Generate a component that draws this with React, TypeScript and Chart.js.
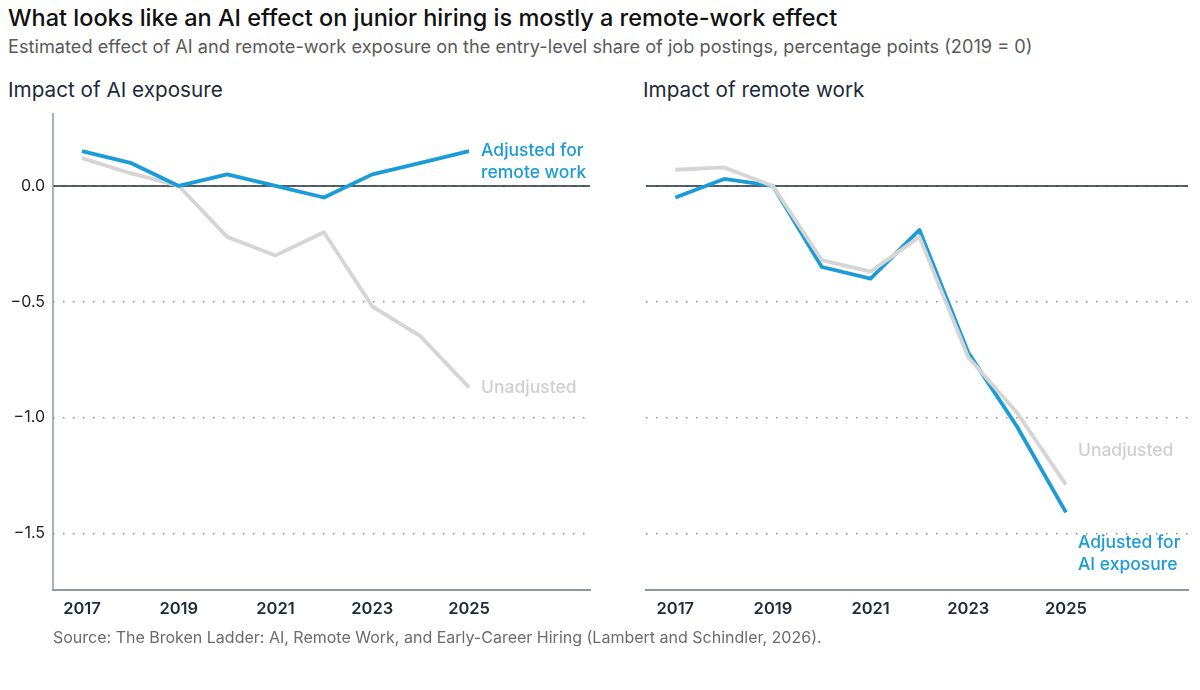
import React, { useRef, useEffect } from 'react';
import { Chart, registerables, Plugin } from 'chart.js';

Chart.register(...registerables);

const years = [2017, 2018, 2019, 2020, 2021, 2022, 2023, 2024, 2025];
const aiAdjusted = [0.15, 0.1, 0, 0.05, 0, -0.05, 0.05, 0.1, 0.15];
const aiUnadjusted = [0.12, 0.055, 0, -0.22, -0.3, -0.2, -0.52, -0.65, -0.87];
const remoteAdjusted = [-0.05, 0.03, 0, -0.35, -0.4, -0.19, -0.72, -1.04, -1.41];
const remoteUnadjusted = [0.07, 0.08, 0, -0.32, -0.37, -0.22, -0.74, -0.98, -1.29];
const xTicks = [2017, 2019, 2021, 2023, 2025];
const yTicks = [-1.5, -1, -0.5, 0];

const BLUE = '#1b9bd7';
const GREY = '#d5d5d5';
const INK = '#1d2b3a';
const FONT = 'Inter, "Noto Sans", sans-serif';

type Series = {
    values: number[];
    color: string;
    label: string[];
    labelColor: string;
    dy: number;
};

type PanelProps = {
    series: Series[];
    showYAxis: boolean;
    left: number;
    padRight: number;
};

const toPoints = (vals: number[]) => years.map((x, i) => ({ x, y: vals[i] }));

const noPad = (s: any) => {
    s.paddingTop = 0;
    s.paddingBottom = 0;
    s.paddingLeft = 0;
    s.paddingRight = 0;
};

const panelPlugin: Plugin<'line'> = {
    id: 'panelExtras',
    beforeDatasetsDraw(chart) {
        const { ctx, chartArea, scales } = chart;
        const y0 = scales.y.getPixelForValue(0);
        ctx.save();
        ctx.strokeStyle = INK;
        ctx.lineWidth = 1.5;
        ctx.beginPath();
        ctx.moveTo(chartArea.left, y0);
        ctx.lineTo(chartArea.right, y0);
        ctx.stroke();
        if ((chart.options as any).showYAxis) {
            ctx.strokeStyle = '#8c98a4';
            ctx.lineWidth = 1.5;
            ctx.beginPath();
            ctx.moveTo(chartArea.left, chartArea.top);
            ctx.lineTo(chartArea.left, chartArea.bottom);
            ctx.stroke();
        }
        ctx.restore();
    },
    afterDatasetsDraw(chart) {
        const { ctx } = chart;
        const series: Series[] = (chart.options as any).seriesLabels || [];
        ctx.save();
        ctx.font = '500 17.5px ' + FONT;
        ctx.textBaseline = 'middle';
        ctx.textAlign = 'left';
        series.forEach((s, i) => {
            const meta = chart.getDatasetMeta(i);
            const last = meta.data[meta.data.length - 1];
            ctx.fillStyle = s.labelColor;
            s.label.forEach((line, j) => {
                ctx.fillText(line, last.x + 12, last.y + s.dy + j * 22);
            });
        });
        ctx.restore();
    },
};

const Panel: React.FC<PanelProps> = ({ series, showYAxis, left, padRight }) => {
    const chartRef = useRef<HTMLCanvasElement>(null);
    const chartInstance = useRef<Chart | null>(null);

    useEffect(() => {
        if (chartInstance.current) {
            chartInstance.current.destroy();
        }
        const ctx = chartRef.current?.getContext('2d');
        if (!ctx) return;

        chartInstance.current = new Chart(ctx, {
            type: 'line',
            data: {
                datasets: series.map(s => ({
                    data: toPoints(s.values),
                    borderColor: s.color,
                    borderWidth: 3.8,
                    pointRadius: 0,
                    tension: 0,
                    borderJoinStyle: 'round' as const,
                })),
            },
            plugins: [panelPlugin],
            options: {
                animation: false,
                responsive: false,
                showYAxis,
                seriesLabels: series,
                layout: { padding: { top: 13, right: padRight, left: 0, bottom: 0 } },
                plugins: { legend: { display: false }, tooltip: { enabled: false } },
                scales: {
                    x: {
                        type: 'linear',
                        min: 2016.4,
                        max: 2027.5,
                        afterBuildTicks: (s: any) => { s.ticks = xTicks.map(v => ({ value: v })); },
                        afterFit: (s: any) => { s.height = 40; noPad(s); },
                        grid: { display: false, drawTicks: false },
                        border: { display: true, color: '#8c98a4', width: 2 },
                        ticks: {
                            color: INK,
                            padding: 9,
                            maxRotation: 0,
                            font: { family: FONT, size: 16.5, weight: 600 },
                            callback: (v: any) => String(v),
                        },
                    },
                    y: {
                        min: -1.745,
                        max: 0.315,
                        afterBuildTicks: (s: any) => { s.ticks = yTicks.map(v => ({ value: v })); },
                        afterFit: (s: any) => { s.width = showYAxis ? 53 : 46; noPad(s); },
                        grid: { color: '#8f8f8f', lineWidth: 1.5, drawTicks: false },
                        border: { display: false, dash: [1.5, 8.5] },
                        ticks: {
                            display: showYAxis,
                            color: '#222',
                            padding: 8,
                            font: { family: FONT, size: 16 },
                            callback: (v: any) => (v === 0 ? '0.0' : '\u2212' + Math.abs(v).toFixed(1)),
                        },
                    },
                },
            } as any,
        });

        return () => {
            chartInstance.current?.destroy();
        };
    }, [series, showYAxis]);

    return (
        <canvas
            ref={chartRef}
            width={600}
            height={530}
            style={{ position: 'absolute', left, top: 100, width: 600, height: 530 }}
        ></canvas>
    );
};

// dataset 0 is drawn on top
const aiSeries: Series[] = [
    { values: aiAdjusted, color: BLUE, label: ['Adjusted for', 'remote work'], labelColor: BLUE, dy: 0 },
    { values: aiUnadjusted, color: GREY, label: ['Unadjusted'], labelColor: '#cfcfcf', dy: 0 },
];

const remoteSeries: Series[] = [
    { values: remoteUnadjusted, color: GREY, label: ['Unadjusted'], labelColor: '#cfcfcf', dy: -34 },
    { values: remoteAdjusted, color: BLUE, label: ['Adjusted for', 'AI exposure'], labelColor: BLUE, dy: 30 },
];

const text = (extra: React.CSSProperties): React.CSSProperties => ({
    position: 'absolute',
    fontFamily: FONT,
    whiteSpace: 'nowrap',
    margin: 0,
    ...extra,
});

export default function App() {
    return (
        <div style={{ position: 'fixed', left: 0, top: 0, width: 1200, height: 690, background: '#fff', overflow: 'hidden' }}>
            <div style={text({ left: 8, top: 3, fontSize: 23.5, lineHeight: '30px', fontWeight: 500, color: '#111' })}>
                What looks like an AI effect on junior hiring is mostly a remote-work effect
            </div>
            <div style={text({ left: 8, top: 34, fontSize: 18.2, lineHeight: '24px', color: '#5a5a5a' })}>
                Estimated effect of AI and remote-work exposure on the entry-level share of job postings, percentage points (2019 = 0)
            </div>
            <div style={text({ left: 8, top: 77, fontSize: 20.7, lineHeight: '26px', color: INK })}>Impact of AI exposure</div>
            <div style={text({ left: 643, top: 77, fontSize: 20.7, lineHeight: '26px', color: INK })}>Impact of remote work</div>
            <Panel series={aiSeries} showYAxis={true} left={0} padRight={10} />
            <Panel series={remoteSeries} showYAxis={false} left={600} padRight={12} />
            <div style={text({ left: 53, top: 627, fontSize: 16, lineHeight: '20px', color: '#6b6b6b' })}>
                Source: The Broken Ladder: AI, Remote Work, and Early-Career Hiring (Lambert and Schindler, 2026).
            </div>
        </div>
    );
}
